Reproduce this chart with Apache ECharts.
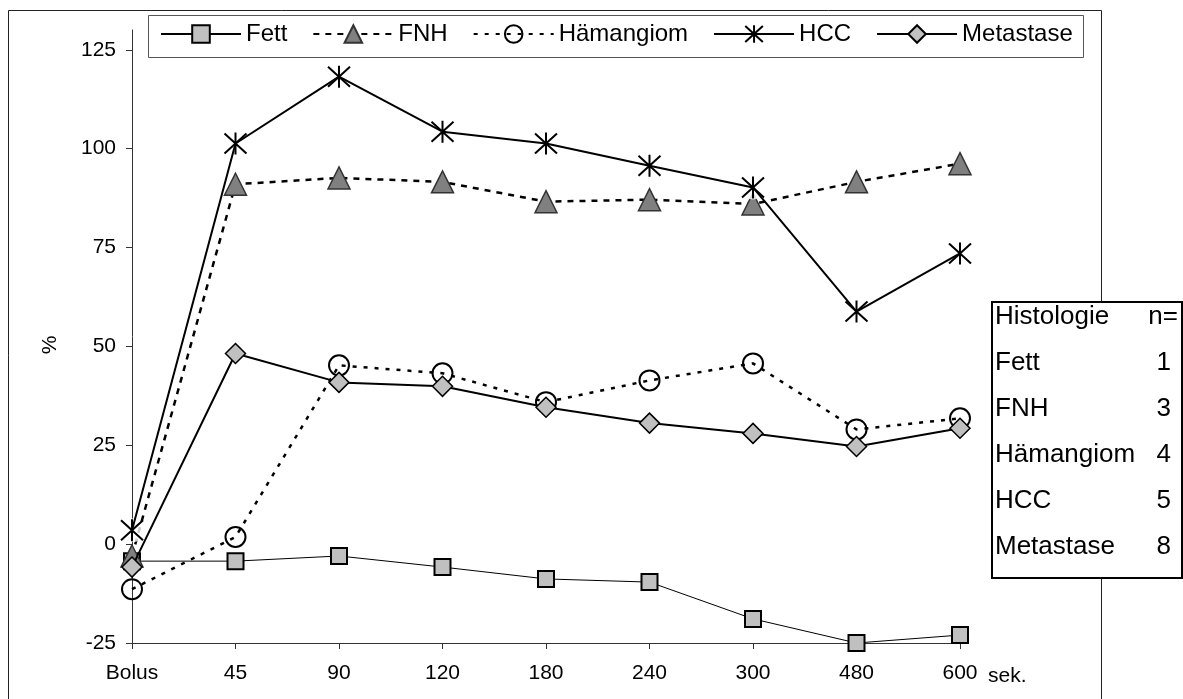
<!DOCTYPE html>
<html>
<head>
<meta charset="utf-8">
<script src="https://cdn.jsdelivr.net/npm/echarts@6/dist/echarts.min.js"></script>
<style>
  html, body { margin: 0; padding: 0; background: #fff; }
  #chart { width: 1183px; height: 699px; }
</style>
</head>
<body>
<div id="chart"></div>
<script>
// Time points after contrast injection
const categories = ['Bolus', '45', '90', '120', '180', '240', '300', '480', '600'];

// Relative enhancement (%) per lesion type
const fett      = [-4.3, -4.3, -3.0, -5.8, -8.8, -9.6, -18.9, -25.0, -23.0];
const fnh       = [-3.0, 91.0, 92.6, 91.6, 86.6, 87.1, 86.0, 91.6, 96.2];
const haemangiom = [-11.4, 1.8, 45.2, 43.2, 35.9, 41.4, 45.7, 29.0, 31.8];
const hcc       = [3.5, 101.3, 118.2, 104.3, 101.3, 95.7, 90.2, 58.8, 73.5];
const metastase = [-5.8, 48.2, 40.9, 39.9, 34.6, 30.6, 28.0, 24.7, 29.3];

// Y axis tick labels
const yTicks = [-25, 0, 25, 50, 75, 100, 125];

// Case counts per histology
const histoNames  = ['Fett', 'FNH', 'Hämangiom', 'HCC', 'Metastase'];
const histoCounts = [1, 3, 4, 5, 8];

const FONT = '"Liberation Sans", Arial, sans-serif';
const starPath = 'path://M0,0L20,20M20,0L0,20M10,-1L10,21';

const chart = echarts.init(document.getElementById('chart'), null, { renderer: 'canvas' });

// Histology table drawn as plain graphic text
const tableX = 992, tableY = 302, tableW = 190, tableH = 276;
const rowY0 = 317, rowStep = 46;
const tableFont = '26px ' + FONT;
const tableTexts = [
  { type: 'text', z: 32, x: 995, y: rowY0, style: { text: 'Histologie', font: tableFont, fill: '#000', verticalAlign: 'middle' } },
  { type: 'text', z: 32, x: 1178, y: rowY0, style: { text: 'n=', font: tableFont, fill: '#000', align: 'right', verticalAlign: 'middle' } }
];
histoNames.forEach((name, i) => {
  const y = rowY0 + rowStep * (i + 1);
  tableTexts.push({ type: 'text', z: 32, x: 995, y: y, style: { text: name, font: tableFont, fill: '#000', verticalAlign: 'middle' } });
  tableTexts.push({ type: 'text', z: 32, x: 1171, y: y, style: { text: String(histoCounts[i]), font: tableFont, fill: '#000', align: 'right', verticalAlign: 'middle' } });
});

const option = {
  animation: false,
  backgroundColor: '#fff',
  textStyle: { fontFamily: FONT },
  grid: { left: 132, right: 223, top: 30, bottom: 56, containLabel: false },
  legend: {
    data: ['Fett', 'FNH', 'Hämangiom', 'HCC', 'Metastase'],
    left: 160,
    top: 22,
    itemWidth: 80,
    itemHeight: 22,
    itemGap: 25,
    padding: 0,
    z: 20,
    textStyle: { fontSize: 24, color: '#000', fontFamily: FONT }
  },
  xAxis: {
    type: 'category',
    data: categories,
    boundaryGap: false,
    axisLine: { onZero: false, lineStyle: { color: '#333', width: 1 } },
    axisTick: { length: 6, lineStyle: { color: '#333' } },
    axisLabel: { margin: 20, fontSize: 21, color: '#000', fontFamily: FONT },
    splitLine: { show: false }
  },
  yAxis: {
    type: 'value',
    min: -25,
    max: 130,
    interval: 25,
    axisLine: { show: true, lineStyle: { color: '#333', width: 1 } },
    axisTick: { show: true, length: 6, customValues: yTicks, lineStyle: { color: '#333' } },
    axisLabel: { margin: 16, fontSize: 21, color: '#000', fontFamily: FONT, customValues: yTicks },
    splitLine: { show: false }
  },
  series: [
    {
      name: 'Fett', type: 'line', data: fett, z: 2,
      symbol: 'rect', symbolSize: 16,
      lineStyle: { color: '#000', width: 1 },
      itemStyle: { color: '#c0c0c0', borderColor: '#000', borderWidth: 2 }
    },
    {
      name: 'FNH', type: 'line', data: fnh, z: 2,
      symbol: 'triangle', symbolSize: 22,
      lineStyle: { color: '#000', width: 2.5, type: [6, 6] },
      itemStyle: { color: '#808080', borderColor: '#333', borderWidth: 1.5 }
    },
    {
      name: 'Hämangiom', type: 'line', data: haemangiom, z: 2,
      symbol: 'circle', symbolSize: 20,
      lineStyle: { color: '#000', width: 2.5, type: [4, 7] },
      itemStyle: { color: 'rgba(255,255,255,0)', borderColor: '#000', borderWidth: 2 }
    },
    {
      // white backdrop under the HCC star markers
      name: 'hccBackdrop', type: 'scatter', data: hcc, z: 3, silent: true,
      symbol: 'circle', symbolSize: 24,
      itemStyle: { color: '#fff' }
    },
    {
      name: 'HCC', type: 'line', data: hcc, z: 4,
      symbol: starPath, symbolSize: 22,
      lineStyle: { color: '#000', width: 2 },
      itemStyle: { color: '#000', borderColor: '#000', borderWidth: 2 }
    },
    {
      name: 'Metastase', type: 'line', data: metastase, z: 5,
      symbol: 'diamond', symbolSize: 20,
      lineStyle: { color: '#000', width: 2 },
      itemStyle: { color: '#c0c0c0', borderColor: '#000', borderWidth: 1.5 }
    }
  ],
  graphic: [
    // outer frame
    { type: 'rect', z: -10, silent: true,
      shape: { x: 8.5, y: 10.5, width: 1093, height: 720 },
      style: { fill: 'none', stroke: '#222', lineWidth: 1 } },
    // legend frame
    { type: 'rect', z: 10, silent: true,
      shape: { x: 148.5, y: 15.5, width: 935, height: 42 },
      style: { fill: '#fff', stroke: '#555', lineWidth: 1 } },
    // axis titles
    { type: 'text', x: 50, y: 345, rotation: Math.PI / 2, z: 10,
      style: { text: '%', font: '21px ' + FONT, fill: '#000', align: 'center', verticalAlign: 'middle' } },
    { type: 'text', x: 988, y: 676, z: 10,
      style: { text: 'sek.', font: '21px ' + FONT, fill: '#000', verticalAlign: 'middle' } },
    // histology table
    { type: 'rect', z: 30, silent: true,
      shape: { x: tableX, y: tableY, width: tableW, height: tableH },
      style: { fill: '#fff', stroke: '#000', lineWidth: 2 } }
  ].concat(tableTexts)
};

chart.setOption(option);
</script>
</body>
</html>
